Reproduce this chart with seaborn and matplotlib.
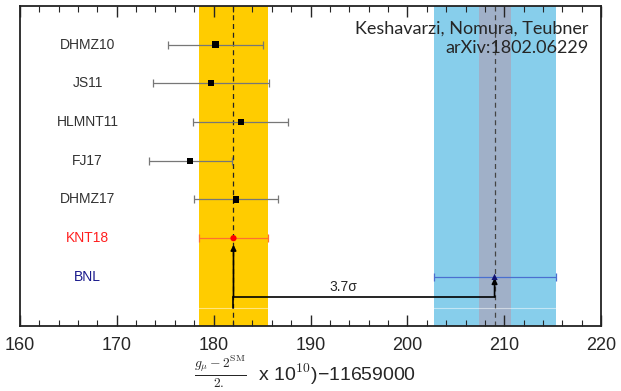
import numpy as np
import pandas as pd
import matplotlib
matplotlib.use("Agg")
import matplotlib.pyplot as plt
import seaborn as sns

sns.set_style("white")
plt.rcParams['font.family'] = ['Liberation Sans', 'DejaVu Sans']
plt.rcParams['mathtext.fontset'] = 'cm'

# values (a_mu x 10^10 - 11659000)
labels = ["DHMZ10", "JS11", "HLMNT11", "FJ17", "DHMZ17", "KNT18", "BNL"]
values = [180.2, 179.7, 182.8, 177.6, 182.3, 182.05, 209.0]
errors = [4.9, 6.0, 4.9, 4.3, 4.3, 3.6, 6.3]
ypos = [7, 6, 5, 4, 3, 2, 1]
label_colors = ["#333333"] * 5 + ["#ff2020", "#1a1a8c"]
bar_colors = ["#777777"] * 5 + ["#ff7030", "#4a6fd0"]
marker_colors = ["black"] * 5 + ["#ff0000", "#101070"]
markers = ["s"] * 5 + ["o", "^"]

knt_band = (182.05, 3.6)
bnl_band = (209.0, 6.3)
future_err = 1.65
n_sigma = "3.7σ"

df = pd.DataFrame({"label": labels, "value": values, "err": errors, "y": ypos,
                   "marker": markers})

fig = plt.figure(figsize=(6.21, 3.91), dpi=100)
ax = fig.add_axes([0.032, 0.166, 0.936, 0.819])

# theory and experiment bands
ax.axvspan(knt_band[0] - knt_band[1], knt_band[0] + knt_band[1], color="#ffcc00", lw=0, zorder=0)
ax.axvspan(bnl_band[0] - bnl_band[1], bnl_band[0] + bnl_band[1], color="#87ceeb", lw=0, zorder=0)
ax.axvspan(bnl_band[0] - future_err, bnl_band[0] + future_err, color="#a0b0c8", lw=0, zorder=0)
ax.axvline(knt_band[0], color="#222222", ls=(0, (4, 3)), lw=0.9, zorder=1)
ax.axvline(bnl_band[0], color="#444444", ls=(0, (4, 3)), lw=0.9, zorder=1)
ax.axhline(0.2, color="white", lw=0.8, alpha=0.5, zorder=1)

for i, row in df.iterrows():
    ax.errorbar(row["value"], row["y"], xerr=row["err"], fmt="none",
                ecolor=bar_colors[i], elinewidth=0.9, capsize=3, capthick=0.9, zorder=2)
    ax.text(167.0, row["y"], row["label"], ha="center", va="center",
            fontsize=10, color=label_colors[i])

for m, sub in df.groupby("marker", sort=False):
    sns.scatterplot(data=sub, x="value", y="y", marker=m, s=20,
                    color=marker_colors[sub.index[0]], edgecolor="none",
                    ax=ax, zorder=3, legend=False)

# discrepancy arrows
ybase = 0.49
ax.plot([knt_band[0], bnl_band[0]], [ybase, ybase], color="black", lw=1.2, zorder=2)
ax.plot([knt_band[0], knt_band[0]], [0.2, ybase], color="black", lw=1.2, zorder=2)
ax.annotate("", xy=(knt_band[0], 1.83), xytext=(knt_band[0], ybase),
            arrowprops=dict(arrowstyle="-|>", color="black", lw=1.2,
                            mutation_scale=8, shrinkA=0, shrinkB=0), zorder=2)
ax.annotate("", xy=(bnl_band[0], 0.97), xytext=(bnl_band[0], ybase),
            arrowprops=dict(arrowstyle="-|>", color="black", lw=1.2,
                            mutation_scale=8, shrinkA=0, shrinkB=0), zorder=2)
ax.text(193.4, ybase + 0.07, n_sigma, ha="center", va="bottom", fontsize=10)

ax.text(0.978, 0.955, "Keshavarzi, Nomura, Teubner\narXiv:1802.06229",
        transform=ax.transAxes, ha="right", va="top", fontsize=13,
        family=["Lato", "DejaVu Sans"], linespacing=1.3)

ax.set_xlim(160, 220)
ax.set_ylim(-0.27, 8.0)
ax.set_xticks(np.arange(160, 221, 10))
ax.set_xticks(np.arange(160, 221, 2), minor=True)
ax.set_yticks([])
ax.tick_params(axis="x", which="major", direction="in", top=True, bottom=True,
               length=8, width=1, labelsize=13, pad=8)
ax.tick_params(axis="x", which="minor", direction="in", top=True, bottom=True,
               length=4, width=0.8)
for s in ax.spines.values():
    s.set_linewidth(1.3)
    s.set_color("#222222")
ax.set_xlabel("")
ax.set_ylabel("")

# axis title: fraction drawn separately from the rest
fig.text(220 / 621, 1 - 372 / 391, r"$\frac{g_\mu-2^{\rm SM}}{2.}$",
         ha="center", va="center", fontsize=14)
fig.text(258 / 621, 1 - 381 / 391, "x 10$^{10}$)−11659000",
         ha="left", va="baseline", fontsize=14)

fig.savefig("out.png", dpi=100)
